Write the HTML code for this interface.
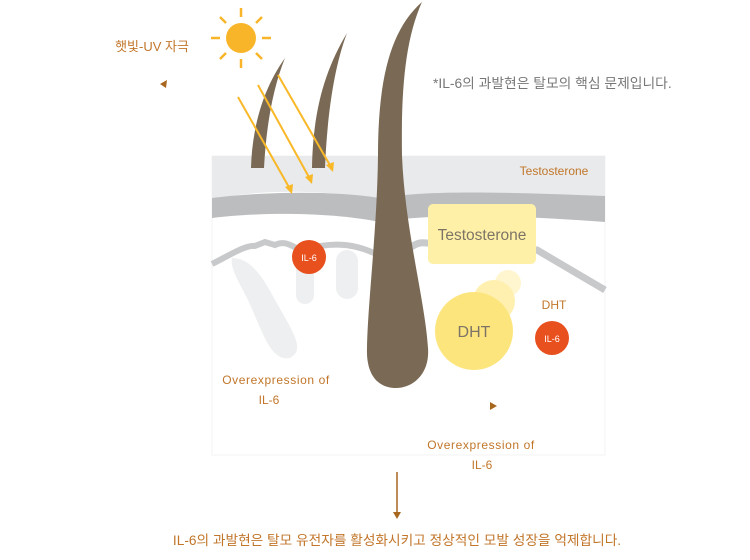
<!DOCTYPE html>
<html><head><meta charset="utf-8"><style>
body{margin:0;width:750px;height:560px;background:#fff;overflow:hidden}
svg{display:block}
text{font-family:"Liberation Sans","Noto Sans CJK KR",sans-serif}
</style></head><body>
<svg width="750" height="560" viewBox="0 0 750 560">
<rect x="212" y="156" width="393" height="299" fill="#fff" stroke="#f3f3f3"/>
<path d="M212,156 H605 V200 C500,194 430,192 380,200 C330,190 260,188 212,200 Z" fill="#e9eaeb"/>
<path d="M212,198 C260,192 330,190 380,198 C430,190 500,192 605,196 V222 C500,214 430,214 380,222 C330,212 260,212 212,218 Z" fill="#bcbdbf"/>
<path d="M232,258 C250,258 262,275 275,300 C295,335 305,350 290,358 C270,362 262,330 248,300 C238,280 230,268 232,258 Z" fill="#eeeff0"/>
<rect x="296" y="250" width="18" height="54" rx="9" fill="#eeeff0"/>
<rect x="336" y="250" width="22" height="49" rx="11" fill="#eeeff0"/>
<path d="M212,264 C230,255 245,245 255,246 L265,242 L275,245 C285,240 292,246 300,250 C320,246 345,238 378,255" fill="none" stroke="#c8c9cb" stroke-width="6"/>
<path d="M410,248 C420,240 425,243 440,245 L537,250 L605,290" fill="none" stroke="#c8c9cb" stroke-width="7"/>
<path d="M251,168 C252,130 262,90 285,58 C272,90 266,130 264,168 Z" fill="#7a6a55"/>
<path d="M312,168 C313,110 325,70 347,33 C333,70 327,120 325,168 Z" fill="#7a6a55"/>
<path d="M378,156 C378,80 390,30 422,2 C405,40 401,90 402,156 C405,230 425,300 428,348 C430,375 412,388 396,388 C378,388 366,375 367,348 C368,300 377,230 378,156 Z" fill="#7a6a55"/>
<g stroke="#f9b828" stroke-width="2" fill="#f9b828">
<line x1="238" y1="97" x2="290" y2="189"/><polygon points="292,194 285,187 293,184" stroke="none"/>
<line x1="258" y1="85" x2="310" y2="179"/><polygon points="312,184 305,177 313,174" stroke="none"/>
<line x1="278" y1="75" x2="331" y2="167"/><polygon points="333,172 326,165 334,162" stroke="none"/>
</g>
<circle cx="241" cy="38" r="15" fill="#f9b52a"/>
<g stroke="#f9b52a" stroke-width="2.5">
<line x1="241" y1="8" x2="241" y2="17"/><line x1="241" y1="59" x2="241" y2="68"/>
<line x1="211" y1="38" x2="220" y2="38"/><line x1="262" y1="38" x2="271" y2="38"/>
<line x1="220" y1="17" x2="226" y2="23"/><line x1="256" y1="53" x2="262" y2="59"/>
<line x1="262" y1="17" x2="256" y2="23"/><line x1="226" y1="53" x2="220" y2="59"/>
</g>
<circle cx="309" cy="257" r="17" fill="#e8501e"/>
<text x="309" y="261" font-size="9" fill="#fff" text-anchor="middle">IL-6</text>
<rect x="428" y="204" width="108" height="60" rx="5" fill="#fff0a8"/>
<text x="482" y="240" font-size="15.5" fill="#7d7466" text-anchor="middle">Testosterone</text>
<circle cx="508" cy="283" r="13" fill="#fff6cf"/>
<circle cx="494" cy="301" r="21" fill="#fff0b0"/>
<circle cx="474" cy="331" r="39" fill="#fde57d"/>
<text x="474" y="337" font-size="16" fill="#7d7466" text-anchor="middle">DHT</text>
<circle cx="552" cy="338" r="17" fill="#e8501e"/>
<text x="552" y="342" font-size="9" fill="#fff" text-anchor="middle">IL-6</text>
<g fill="#c1762a" font-size="12">
<text x="554" y="175" text-anchor="middle">Testosterone</text>
<text x="554" y="309" text-anchor="middle">DHT</text>
<text x="276" y="384" text-anchor="middle" letter-spacing="0.6">Overexpression of</text>
<text x="269" y="404" text-anchor="middle">IL-6</text>
<text x="481" y="449" text-anchor="middle" letter-spacing="0.6">Overexpression of</text>
<text x="482" y="469" text-anchor="middle">IL-6</text>
<text x="152" y="51" text-anchor="middle" font-size="13">햇빛-UV 자극</text>
<text x="397" y="545" text-anchor="middle" font-size="13.7">IL-6의 과발현은 탈모 유전자를 활성화시키고 정상적인 모발 성장을 억제합니다.</text>
</g>
<polygon points="160,84 167,80 166,88" fill="#a8671f"/>
<polygon points="490,402 497,406 490,410" fill="#a8671f"/>
<text x="433" y="88" font-size="13.8" fill="#777">*IL-6의 과발현은 탈모의 핵심 문제입니다.</text>
<line x1="397" y1="472" x2="397" y2="514" stroke="#a8671f" stroke-width="1.5"/>
<polygon points="393,512 401,512 397,519" fill="#a8671f"/>
</svg>
</body></html>
